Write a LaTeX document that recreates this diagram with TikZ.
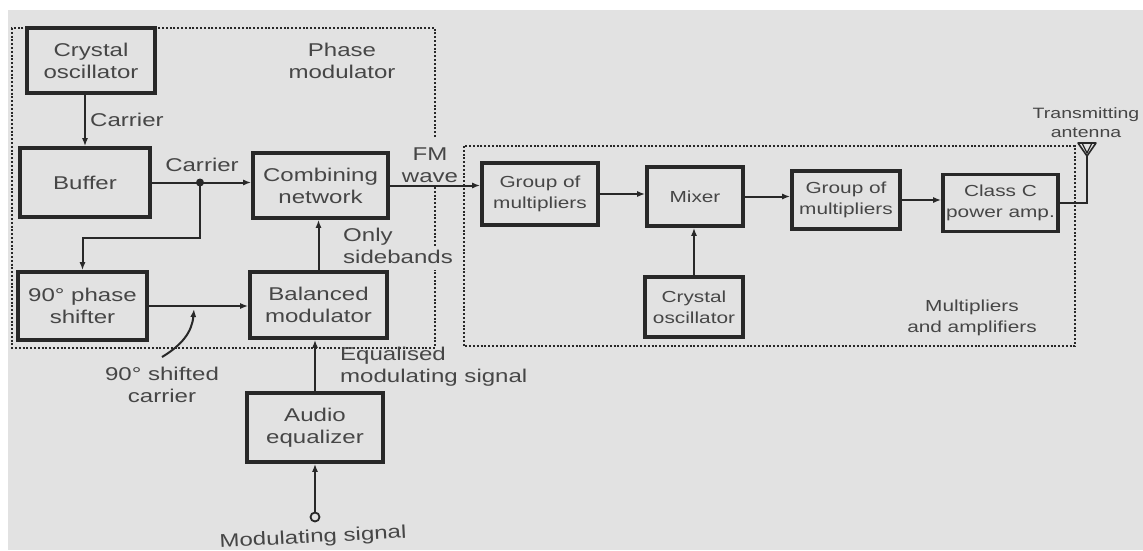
\documentclass[tikz,border=0pt]{standalone}
\usepackage{fontspec}
\setmainfont{Liberation Sans}[FakeStretch=1.3]
\usetikzlibrary{arrows.meta}
\definecolor{bg}{RGB}{226,226,226}
\definecolor{ink}{RGB}{40,40,40}
\definecolor{txt}{RGB}{70,70,70}
\begin{document}
\begin{tikzpicture}[x=1pt,y=-1pt,
  blk/.style={draw=ink, line width=3.6pt, fill=bg, inner sep=0pt, align=center, text=txt, font=\fontsize{18.5}{22}\selectfont},
  rblk/.style={blk, font=\fontsize{16}{21}\selectfont},
  lbl/.style={text=txt, align=center, inner sep=0pt, font=\fontsize{18.5}{22}\selectfont},
  rlbl/.style={lbl, font=\fontsize{16}{21}\selectfont},
  arr/.style={draw=ink, line width=2pt, -{Latex[length=8pt,width=6pt]}},
  wire/.style={draw=ink, line width=2pt},
  dots/.style={draw=ink, line width=2.2pt, dash pattern=on 2pt off 1.8pt}]
\fill[white] (0,0) rectangle (1143,550);
\fill[bg] (8,10) rectangle (1143,550);
\useasboundingbox (0,0) rectangle (1143,550);

% dotted groups
\draw[dots] (435,137) -- (435,28) -- (12,28) -- (12,348) -- (435,348) -- (435,270);
\draw[dots] (435,187) -- (435,247);
\draw[dots] (464,146) rectangle (1075,346);

% boxes
\node[blk, minimum width=128pt, minimum height=65pt] (xo1) at (91,60.5) {Crystal\\oscillator};
\node[blk, minimum width=130pt, minimum height=69pt] (buf) at (85,182.5) {Buffer};
\node[blk, minimum width=135pt, minimum height=65pt] (comb) at (320.5,185.5) {Combining\\network};
\node[blk, minimum width=129pt, minimum height=68pt] (ps) at (82.5,306) {90° phase\\shifter};
\node[blk, minimum width=137pt, minimum height=66pt] (bal) at (318.5,305) {Balanced\\modulator};
\node[blk, minimum width=136pt, minimum height=69pt] (aud) at (315,427.5) {Audio\\equalizer};
\node[rblk, minimum width=116pt, minimum height=62pt] (gm1) at (540,194) {Group of\\multipliers};
\node[rblk, minimum width=96pt, minimum height=59pt] (mix) at (695,196.5) {Mixer};
\node[rblk, minimum width=98pt, minimum height=60pt] (xo2) at (694,307) {Crystal\\oscillator};
\node[rblk, minimum width=108pt, minimum height=58pt] (gm2) at (846,200) {Group of\\multipliers};
\node[rblk, minimum width=115pt, minimum height=57pt] (cc) at (1000.5,203) {Class C\\power amp.};
\node[circle, draw=ink, line width=1.8pt, minimum size=9pt, inner sep=0pt] (msig) at (315,517) {};

% connectors
\coordinate (J) at (200,182.5);
\draw[arr] (xo1.south -| buf.north) -- (buf.north);
\draw[wire] (buf.east) -- (J);
\draw[arr] (J) -- (J -| comb.west);
\fill[ink] (J) circle (4pt);
\draw[arr] (J) -- ++(0,55) -| (ps.north);
\draw[arr] (ps.east) -- (ps.east -| bal.west);
\draw[arr] (bal.north) -- (bal.north |- comb.south);
\draw[arr] (aud.north) -- (aud.north |- bal.south);
\draw[arr] (msig.north) -- (msig.north |- aud.south);
\draw[arr] (comb.east) -- (comb.east -| gm1.west);
\draw[arr] (gm1.east) -- (gm1.east -| mix.west);
\draw[arr] (mix.east) -- (mix.east -| gm2.west);
\draw[arr] (gm2.east) -- (gm2.east -| cc.west);
\draw[arr] (xo2.north) -- (xo2.north |- mix.south);
\coordinate (c0) at (162,357);
\coordinate (c1) at (194,309);
\draw[arr] (c0) .. controls (182,345) and (192,332) .. (c1);

% antenna
\coordinate (ant) at (1087,155);
\draw[wire] (cc.east) -| (ant);
\draw[ink, line width=1.6pt, line join=round] (1078,143) -- (1096,143) -- (1087,156) -- cycle;
\draw[ink, line width=1.3pt] (1082,143) -- (1087,153) -- (1092,143);

% labels
\node[lbl, anchor=west] (lc1) at (90,120) {Carrier};
\node[lbl] (lc2) at (202,165) {Carrier};
\node[lbl] (lpm) at (342,61) {Phase\\modulator};
\node[lbl] (lfm) at (430,165) {FM\\wave};
\node[lbl, align=left, anchor=west] (lsb) at (343,246) {Only\\sidebands};
\node[lbl] (l90) at (162,385) {90° shifted\\carrier};
\node[lbl, align=left, anchor=west] (leq) at (340,367) {Equalised\\modulating signal};
\node[lbl, rotate=3] (lms) at (313,538) {Modulating signal};
\node[rlbl] (lma) at (972,318) {Multipliers\\and amplifiers};
\node[lbl, font=\fontsize{15}{19}\selectfont] (lta) at (1086,123) {Transmitting\\antenna};
\end{tikzpicture}
\end{document}
